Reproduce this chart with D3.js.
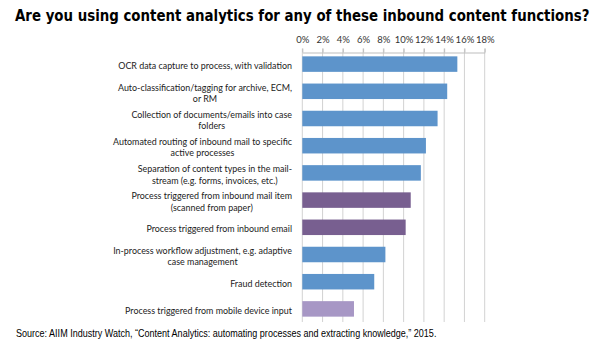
<!DOCTYPE html>
<html>
<head>
<meta charset="utf-8">
<script src="https://cdn.jsdelivr.net/npm/d3@7"></script>
<style>
  html, body { margin: 0; padding: 0; background: #fff; }
  svg { display: block; }
</style>
</head>
<body>
<svg id="chart" width="607" height="341"></svg>
<script>
// Survey categories (line breaks mark where each label wraps)
const categories = [
  "OCR data capture to process, with validation",
  "Auto-classification/tagging for archive, ECM,\nor RM",
  "Collection of documents/emails into case\nfolders",
  "Automated routing of inbound mail to specific\nactive processes",
  "Separation of content types in the mail-\nstream (e.g. forms, invoices, etc.)",
  "Process triggered from inbound mail item\n(scanned from paper)",
  "Process triggered from inbound email",
  "In-process workflow adjustment, e.g. adaptive\ncase management",
  "Fraud detection",
  "Process triggered from mobile device input"
];
// Share of respondents (%)
const values = [15.3, 14.3, 13.35, 12.2, 11.7, 10.7, 10.2, 8.2, 7.1, 5.1];
// Category grouping used for bar colouring
const groups = ["general", "general", "general", "general", "general",
                "trigger", "trigger", "general", "general", "mobile"];
const tickValues = [0, 2, 4, 6, 8, 10, 12, 14, 16, 18];

const titleText = "Are you using content analytics for any of these inbound content functions?";
const sourceText = "Source: AIIM Industry Watch, \u201cContent Analytics: automating processes and extracting knowledge,\u201d 2015.";

const svg = d3.select("#chart");

const x = d3.scaleLinear().domain([0, 18]).range([302.3, 484.7]);
const y = d3.scaleBand().domain(d3.range(categories.length))
  .range([50.5, 322.5]).paddingInner(0.43).paddingOuter(0.215);
const color = d3.scaleOrdinal()
  .domain(["general", "trigger", "mobile"])
  .range(["#5d94cb", "#785f90", "#a797c5"]);

// Fit a text element horizontally into a given width with a scale transform
function fitWidth(sel, left, baseline, width) {
  const natural = sel.node().getComputedTextLength();
  sel.attr("x", 0).attr("y", 0)
    .attr("transform", `translate(${left},${baseline}) scale(${width / natural},1)`);
}

// Title
const title = svg.append("text")
  .attr("font-family", "'DejaVu Sans Condensed', 'DejaVu Sans', sans-serif")
  .attr("font-weight", "bold")
  .attr("font-size", 16.5)
  .attr("fill", "#000")
  .text(titleText);
fitWidth(title, 15, 21, 575);

// Vertical gridlines
svg.append("g").selectAll("line").data(tickValues).join("line")
  .attr("x1", d => x(d)).attr("x2", d => x(d))
  .attr("y1", 48.5).attr("y2", 322)
  .attr("stroke", "#d2d2d2").attr("stroke-width", 1);

// Top axis
const axis = d3.axisTop(x).tickValues(tickValues)
  .tickFormat(d => d + "%").tickSize(4).tickSizeOuter(0);
const gAxis = svg.append("g").attr("transform", "translate(0,52.5)").call(axis);
gAxis.select(".domain").attr("stroke", "#bdbdbd");
gAxis.selectAll(".tick line").attr("stroke", "#bdbdbd");
gAxis.selectAll(".tick text")
  .attr("font-family", "Lato, 'Open Sans', sans-serif")
  .attr("font-size", 9.5)
  .attr("fill", "#333")
  .attr("dy", 0)
  .attr("y", -9.5);

// Bars
svg.append("g").selectAll("rect").data(values).join("rect")
  .attr("x", x(0))
  .attr("y", (d, i) => y(i))
  .attr("width", d => x(d) - x(0))
  .attr("height", y.bandwidth())
  .attr("fill", (d, i) => color(groups[i]));

// Category labels: wrapped lines are centred on each other, block right-aligned.
// Glyphs are narrowed slightly so the widest line fits the label column.
const labelRight = 292;
const labelColumn = 179;
const lineGap = 11.5;
const labelGroup = svg.append("g");
const labelTexts = [];
categories.forEach((label, i) => {
  const lines = label.split("\n");
  const cy = y(i) + y.bandwidth() / 2;
  const texts = lines.map((ln, k) =>
    labelGroup.append("text")
      .attr("font-family", "Lato, 'Open Sans', sans-serif")
      .attr("font-size", 10.2)
      .attr("fill", "#222")
      .attr("text-anchor", "middle")
      .attr("dominant-baseline", "central")
      .attr("y", cy + (k - (lines.length - 1) / 2) * lineGap + 1)
      .text(ln));
  labelTexts.push(texts);
});
const widest = d3.max(labelTexts.flat(), t => t.node().getComputedTextLength());
const squeeze = labelColumn / widest;
labelTexts.forEach(texts => {
  const widths = texts.map(t => t.node().getComputedTextLength() * squeeze);
  const blockW = d3.max(widths);
  texts.forEach((t, k) => t
    .attr("textLength", widths[k])
    .attr("lengthAdjust", "spacingAndGlyphs")
    .attr("x", labelRight - blockW / 2));
});

// Source note
const source = svg.append("text")
  .attr("font-family", "'Liberation Sans', Arial, sans-serif")
  .attr("font-size", 10)
  .attr("fill", "#000")
  .text(sourceText);
fitWidth(source, 16, 337, 421);
</script>
</body>
</html>
